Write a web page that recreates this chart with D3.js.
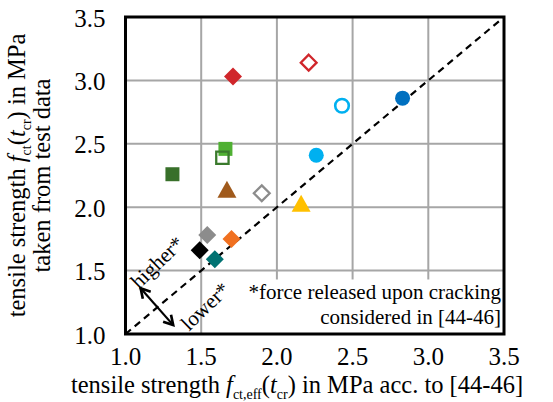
<!DOCTYPE html>
<html>
<head>
<meta charset="utf-8">
<script src="https://cdn.jsdelivr.net/npm/d3@7"></script>
<style>
  body { margin: 0; background: #fff; }
</style>
</head>
<body>
<svg id="chart" width="553" height="402"></svg>
<script>
// Axis ticks
const xTicks = [1.0, 1.5, 2.0, 2.5, 3.0, 3.5];
const yTicks = [1.0, 1.5, 2.0, 2.5, 3.0, 3.5];

// Predicted (x) vs measured (y) tensile strength, one entry per test series
const predicted = [2.83, 2.43, 2.26, 2.21, 1.71, 1.66, 1.64, 1.31, 1.67, 1.90, 2.16, 1.54, 1.70, 1.49, 1.59];
const measured  = [2.86, 2.80, 2.41, 3.14, 3.03, 2.46, 2.39, 2.26, 2.12, 2.11, 2.01, 1.78, 1.75, 1.66, 1.59];

// Marker look per series (same order as above)
const markerStyles = [
  { shape: "circle",   color: "#0070c0", filled: true },
  { shape: "circle",   color: "#00b0f0", filled: false },
  { shape: "circle",   color: "#00b0f0", filled: true },
  { shape: "diamond",  color: "#d0262b", filled: false },
  { shape: "diamond",  color: "#d0262b", filled: true },
  { shape: "square",   color: "#4fb032", filled: true },
  { shape: "square",   color: "#3a7a2c", filled: false },
  { shape: "square",   color: "#38702a", filled: true },
  { shape: "triangle", color: "#a05a1c", filled: true },
  { shape: "diamond",  color: "#8c8c8c", filled: false },
  { shape: "triangle", color: "#ffc000", filled: true },
  { shape: "diamond",  color: "#8c8c8c", filled: true },
  { shape: "diamond",  color: "#f07020", filled: true },
  { shape: "diamond",  color: "#000000", filled: true },
  { shape: "diamond",  color: "#007272", filled: true }
];

const FONT = "Liberation Serif";

const svg = d3.select("#chart");

// Plot area
const margin = { left: 125.5, right: 49, top: 17, bottom: 68 };
const width = 553 - margin.left - margin.right;
const height = 402 - margin.top - margin.bottom;

const x = d3.scaleLinear().domain([1, 3.5]).range([margin.left, margin.left + width]);
const y = d3.scaleLinear().domain([1, 3.5]).range([margin.top + height, margin.top]);

// Gridlines
svg.append("g")
  .selectAll("line")
  .data(xTicks)
  .enter().append("line")
  .attr("x1", d => x(d)).attr("x2", d => x(d))
  .attr("y1", y(1)).attr("y2", y(3.5))
  .attr("stroke", "#a6a6a6").attr("stroke-width", 2);

svg.append("g")
  .selectAll("line")
  .data(yTicks)
  .enter().append("line")
  .attr("x1", x(1)).attr("x2", x(3.5))
  .attr("y1", d => y(d)).attr("y2", d => y(d))
  .attr("stroke", "#a6a6a6").attr("stroke-width", 2);

// Note box (white, hides grid behind)
svg.append("rect")
  .attr("x", x(1.8)).attr("y", y(1.43))
  .attr("width", x(3.5) - x(1.8)).attr("height", y(1) - y(1.43))
  .attr("fill", "#fff");

svg.append("text")
  .attr("x", x(3.48)).attr("y", y(1.275))
  .attr("text-anchor", "end")
  .attr("font-family", FONT).attr("font-size", 21)
  .text("*force released upon cracking");
svg.append("text")
  .attr("x", x(3.48)).attr("y", y(1.075))
  .attr("text-anchor", "end")
  .attr("font-family", FONT).attr("font-size", 21)
  .text("considered in [44-46]");

// 1:1 line
svg.append("line")
  .attr("x1", x(1)).attr("y1", y(1))
  .attr("x2", x(3.5)).attr("y2", y(3.5))
  .attr("stroke", "#000").attr("stroke-width", 2.2)
  .attr("stroke-dasharray", "7,5");

// higher / lower annotation
const lineAngle = Math.atan2(y(3.5) - y(1), x(3.5) - x(1)) * 180 / Math.PI;

svg.append("defs").append("marker")
  .attr("id", "head")
  .attr("viewBox", "0 0 10 10")
  .attr("refX", 8).attr("refY", 5)
  .attr("markerWidth", 6).attr("markerHeight", 6)
  .attr("orient", "auto-start-reverse")
  .append("path")
  .attr("d", "M1,1 L8,5 L1,9")
  .attr("fill", "none")
  .attr("stroke", "#000")
  .attr("stroke-width", 2);

svg.append("line")
  .attr("x1", x(1.10)).attr("y1", y(1.36))
  .attr("x2", x(1.315)).attr("y2", y(1.07))
  .attr("stroke", "#000").attr("stroke-width", 2.2)
  .attr("marker-start", "url(#head)")
  .attr("marker-end", "url(#head)");

svg.append("text")
  .attr("transform", `translate(${x(1.208)},${y(1.567)}) rotate(${lineAngle - 4})`)
  .attr("text-anchor", "middle")
  .attr("dy", "0.35em")
  .attr("font-family", FONT).attr("font-size", 21)
  .text("higher*");

svg.append("text")
  .attr("transform", `translate(${x(1.525)},${y(1.22)}) rotate(${lineAngle - 4})`)
  .attr("text-anchor", "middle")
  .attr("dy", "0.35em")
  .attr("font-family", FONT).attr("font-size", 21)
  .text("lower*");

// Markers
function markerPath(shape) {
  if (shape === "diamond") return "M0,-9 L9,0 L0,9 L-9,0 Z";
  if (shape === "square") return "M-7,-7 H7 V7 H-7 Z";
  if (shape === "triangle") return "M0,-11.3 L9.5,5.7 L-9.5,5.7 Z";
  return null;
}

const points = predicted.map((v, i) => ({ px: v, py: measured[i], style: markerStyles[i] }));

const marks = svg.append("g")
  .selectAll("g")
  .data(points)
  .enter().append("g")
  .attr("transform", d => `translate(${x(d.px)},${y(d.py)})`);

marks.each(function(d) {
  const g = d3.select(this);
  const s = d.style;
  let el;
  if (s.shape === "circle") {
    el = g.append("circle").attr("r", s.filled ? 7.5 : 6.8);
  } else {
    el = g.append("path").attr("d", markerPath(s.shape));
    if (!s.filled) el.attr("transform", "scale(0.88)");
  }
  if (s.filled) {
    el.attr("fill", s.color);
  } else {
    el.attr("fill", "none").attr("stroke", s.color).attr("stroke-width", 2.6);
  }
});

// Frame
svg.append("rect")
  .attr("x", x(1)).attr("y", y(3.5))
  .attr("width", x(3.5) - x(1)).attr("height", y(1) - y(3.5))
  .attr("fill", "none").attr("stroke", "#000").attr("stroke-width", 3);

// Tick labels
svg.append("g")
  .selectAll("text")
  .data(xTicks)
  .enter().append("text")
  .attr("x", d => x(d))
  .attr("y", y(1) + 31)
  .attr("text-anchor", "middle")
  .attr("font-family", FONT).attr("font-size", 25)
  .text(d => d.toFixed(1));

svg.append("g")
  .selectAll("text")
  .data(yTicks)
  .enter().append("text")
  .attr("x", x(1) - 20)
  .attr("y", d => y(d))
  .attr("dy", "0.38em")
  .attr("text-anchor", "end")
  .attr("font-family", FONT).attr("font-size", 25)
  .text(d => d.toFixed(1));

// Title with italic symbol and subscripts
function addSymbolTitle(sel, pre, sub1, sub2, post) {
  sel.attr("font-family", FONT).attr("font-size", 24.5);
  sel.append("tspan").attr("font-family", FONT).text(pre);
  sel.append("tspan").attr("font-family", FONT).attr("font-style", "italic").text("f");
  sel.append("tspan").attr("font-family", FONT).attr("dy", 6).attr("font-size", 14).text(sub1);
  sel.append("tspan").attr("font-family", FONT).attr("dy", -6).text("(");
  sel.append("tspan").attr("font-family", FONT).attr("font-style", "italic").text("t");
  sel.append("tspan").attr("font-family", FONT).attr("dy", 6).attr("font-size", 14).text(sub2);
  sel.append("tspan").attr("font-family", FONT).attr("dy", -6).text(post);
}

// X axis title
const xTitle = svg.append("text")
  .attr("x", 297)
  .attr("y", 393)
  .attr("text-anchor", "middle");
addSymbolTitle(xTitle, "tensile strength ", "ct,eff", "cr", ") in MPa acc. to [44-46]");

// Y axis title (two lines, rotated)
const yTitle = svg.append("g")
  .attr("transform", `translate(0,${(y(1) + y(3.5)) / 2}) rotate(-90)`);

const yLine1 = yTitle.append("text")
  .attr("x", 0).attr("y", 25)
  .attr("text-anchor", "middle");
addSymbolTitle(yLine1, "tensile strength ", "ct", "cr", ") in MPa");

yTitle.append("text")
  .attr("x", 0).attr("y", 50)
  .attr("text-anchor", "middle")
  .attr("font-family", FONT).attr("font-size", 24.5)
  .text("taken from test data");
</script>
</body>
</html>
